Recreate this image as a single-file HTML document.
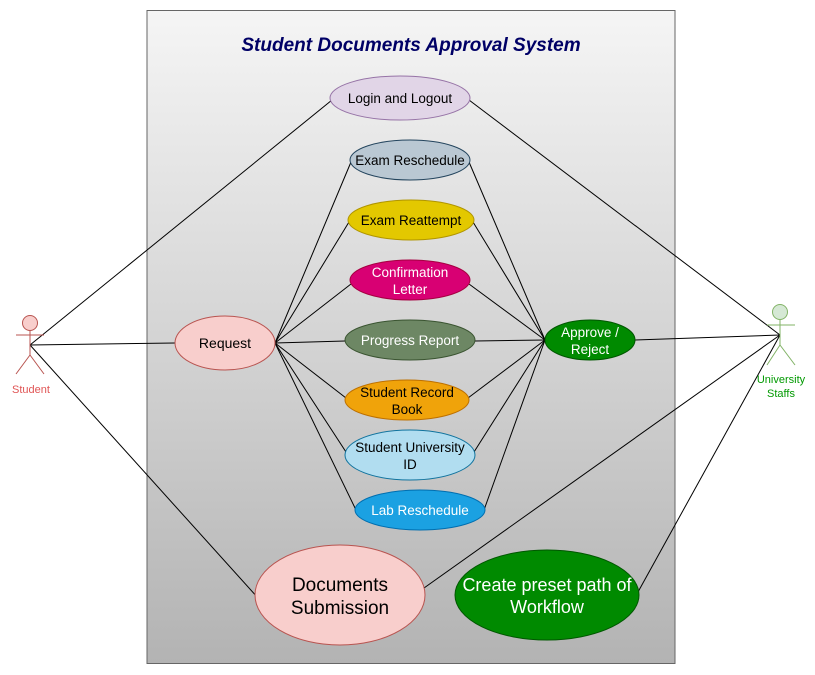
<!DOCTYPE html>
<html><head><meta charset="utf-8"><style>
html,body{margin:0;padding:0;background:#fff;}
svg{display:block;}
text{font-family:"Liberation Sans",Arial,sans-serif;}
</style></head><body>
<svg width="815" height="675" viewBox="0 0 815 675" xmlns="http://www.w3.org/2000/svg">
<defs>
<linearGradient id="g" x1="0" y1="0" x2="0" y2="1">
<stop offset="0" stop-color="#f5f5f5"/><stop offset="1" stop-color="#b3b3b3"/>
</linearGradient>
</defs>
<rect x="147" y="10.5" width="528" height="653" fill="url(#g)" stroke="#666"/>
<text x="411" y="51" text-anchor="middle" font-size="19" font-weight="bold" font-style="italic" fill="#000066">Student Documents Approval System</text>
<g stroke="#000" stroke-width="1" fill="none">
<line x1="30" y1="345" x2="332" y2="100"/>
<line x1="30" y1="345" x2="175" y2="343"/>
<line x1="30" y1="345" x2="258" y2="598"/>
<line x1="469" y1="100" x2="780" y2="335"/>
<line x1="635" y1="340" x2="780" y2="335"/>
<line x1="424" y1="588" x2="780" y2="335"/>
<line x1="638" y1="592" x2="780" y2="335"/>
<line x1="275" y1="343" x2="351" y2="162"/>
<line x1="275" y1="343" x2="349" y2="222"/>
<line x1="275" y1="343" x2="351" y2="284"/>
<line x1="275" y1="343" x2="345" y2="341"/>
<line x1="275" y1="343" x2="346" y2="398"/>
<line x1="275" y1="343" x2="346" y2="452"/>
<line x1="275" y1="343" x2="356" y2="510"/>
<line x1="469" y1="162" x2="545" y2="340"/>
<line x1="473" y1="222" x2="545" y2="340"/>
<line x1="469" y1="284" x2="545" y2="340"/>
<line x1="475" y1="341" x2="545" y2="340"/>
<line x1="468" y1="398" x2="545" y2="340"/>
<line x1="474" y1="452" x2="545" y2="340"/>
<line x1="484" y1="510" x2="545" y2="340"/>
</g>
<g stroke-width="1">
<ellipse cx="400" cy="98" rx="70" ry="22" fill="#e1d5e7" stroke="#9673a6"/>
<ellipse cx="410" cy="160" rx="60" ry="20" fill="#bac8d3" stroke="#23445d"/>
<ellipse cx="411" cy="220" rx="63" ry="20" fill="#e3c800" stroke="#b09500"/>
<ellipse cx="410" cy="280" rx="60" ry="20" fill="#d80073" stroke="#a50040"/>
<ellipse cx="410" cy="340" rx="65" ry="20" fill="#6d8764" stroke="#3a5431"/>
<ellipse cx="407" cy="400" rx="62" ry="20" fill="#f0a30a" stroke="#bd7000"/>
<ellipse cx="410" cy="455" rx="65" ry="25" fill="#b1ddf0" stroke="#10739e"/>
<ellipse cx="420" cy="510" rx="65" ry="20" fill="#1ba1e2" stroke="#006eaf"/>
<ellipse cx="225" cy="343" rx="50" ry="27" fill="#f8cecc" stroke="#b85450"/>
<ellipse cx="590" cy="340" rx="45" ry="20" fill="#008a00" stroke="#005700"/>
<ellipse cx="340" cy="595" rx="85" ry="50" fill="#f8cecc" stroke="#b85450"/>
<ellipse cx="547" cy="595" rx="92" ry="45" fill="#008a00" stroke="#005700"/>
</g>
<g font-size="13.5" text-anchor="middle">
<text x="400" y="103">Login and Logout</text>
<text x="410" y="165">Exam Reschedule</text>
<text x="411" y="225">Exam Reattempt</text>
<text x="410" y="277" fill="#fff">Confirmation</text>
<text x="410" y="294" fill="#fff">Letter</text>
<text x="410" y="345" fill="#fff">Progress Report</text>
<text x="407" y="397">Student Record</text>
<text x="407" y="414">Book</text>
<text x="410" y="452">Student University</text>
<text x="410" y="469">ID</text>
<text x="420" y="515" fill="#fff">Lab Reschedule</text>
<text x="225" y="348" font-size="14">Request</text>
<text x="590" y="337" fill="#fff">Approve /</text>
<text x="590" y="354" fill="#fff">Reject</text>
<text x="340" y="591" font-size="19">Documents</text>
<text x="340" y="614" font-size="19">Submission</text>
<text x="547" y="591" font-size="18" fill="#fff">Create preset path of</text>
<text x="547" y="613" font-size="18" fill="#fff">Workflow</text>
</g>
<g stroke="#b85450" fill="none">
<circle cx="30" cy="323" r="7.5" fill="#f8cecc"/>
<line x1="30" y1="330.5" x2="30" y2="355"/>
<line x1="16" y1="335" x2="44" y2="335"/>
<line x1="30" y1="355" x2="16" y2="374"/>
<line x1="30" y1="355" x2="44" y2="374"/>
</g>
<text x="31" y="393" font-size="11" fill="#e05555" text-anchor="middle">Student</text>
<g stroke="#82b366" fill="none">
<circle cx="780" cy="312" r="7.5" fill="#d5e8d4"/>
<line x1="780" y1="319.5" x2="780" y2="345"/>
<line x1="767" y1="325" x2="795" y2="325"/>
<line x1="780" y1="345" x2="767" y2="365"/>
<line x1="780" y1="345" x2="795" y2="365"/>
</g>
<text x="781" y="383" font-size="11" fill="#009900" text-anchor="middle">University</text>
<text x="781" y="397" font-size="11" fill="#009900" text-anchor="middle">Staffs</text>
</svg>
</body></html>
